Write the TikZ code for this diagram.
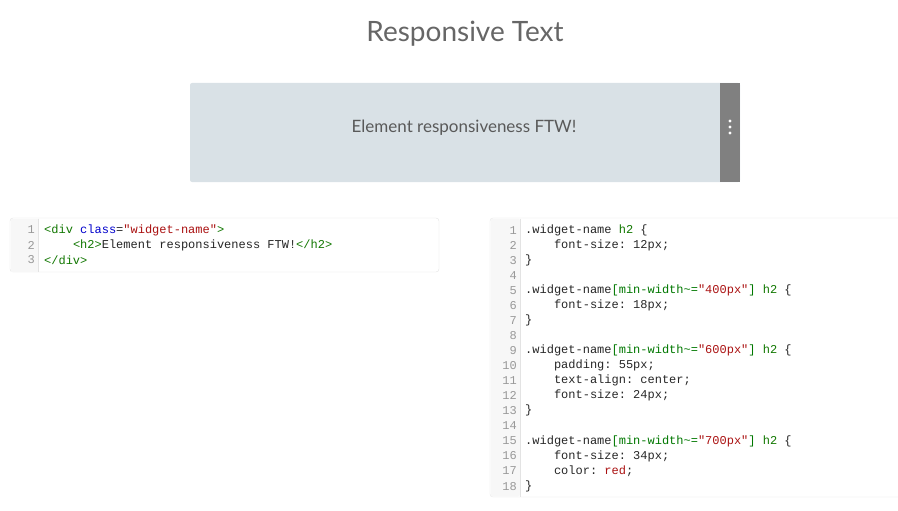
\documentclass[tikz,border=0pt]{standalone}
\usepackage{fontspec}
\setmainfont{Lato}
\setmonofont{Liberation Mono}
\definecolor{boxfill}{HTML}{D9E1E6}
\definecolor{handle}{HTML}{808080}
\definecolor{gut}{HTML}{F7F7F7}
\definecolor{bord}{HTML}{E3E3E3}
\definecolor{num}{HTML}{999999}
\definecolor{tag}{HTML}{117700}
\definecolor{att}{HTML}{0000CC}
\definecolor{str}{HTML}{AA1111}
\definecolor{brk}{HTML}{007700}
\newcommand{\T}[1]{\textcolor{tag}{#1}}
\newcommand{\A}[1]{\textcolor{att}{#1}}
\newcommand{\St}[1]{\textcolor{str}{#1}}
\newcommand{\B}[1]{\textcolor{brk}{#1}}
\newcommand{\Kw}[1]{\textcolor{str}{#1}}
\begin{document}
\begin{tikzpicture}[x=1pt,y=-1pt,
  code/.style={anchor=west,inner sep=0pt,font=\fontsize{12}{12}\ttfamily,text=black!85},
  lnum/.style={anchor=east,inner sep=0pt,font=\fontsize{12}{12}\ttfamily,text=num},
  cbox/.style={draw=bord,rounded corners=3pt,fill=white}]
\useasboundingbox (0,0) rectangle (898,511);
\node (title) at (465,34) {\fontsize{28}{28}\selectfont\color{black!60}Responsive Text};
% widget
\fill[boxfill,rounded corners=2pt] (190,83) rectangle (740,182);
\fill[handle] (720,83) rectangle (740,182);
\foreach \yy in {121,127,133} \fill[white] (730,\yy) circle (1.6);
\node (wtext) at (464,128) {\fontsize{17}{17}\selectfont\color{black!65}Element responsiveness FTW!};
% left code
\draw[cbox] (10,218) rectangle (439,272);
\fill[gut] (10.5,218.5) rectangle (38,271.5);
\draw[bord] (38,218.5) -- (38,271.5);
\foreach \i in {1,2,3} \node[lnum] at (35,215+15*\i) {\i};
\node[code] (l1) at (44,230) {\T{<div} \A{class}=\St{"widget-name"}\T{>}};
\node[code] (l2) at (44,245) {\phantom{xxxx}\T{<h2>}Element responsiveness FTW!\T{</h2>}};
\node[code] (l3) at (44,260) {\T{</div>}};
% right code
\draw[bord,rounded corners=3pt] (898,218) -- (490,218) -- (490,497) -- (898,497);
\fill[gut,rounded corners=2pt] (490.5,218.5) rectangle (520,496.5);
\draw[bord] (520,218.5) -- (520,496.5);
\foreach \i in {1,...,18} \node[lnum] at (517,215+15.06*\i) {\i};
\def\ry#1{215+15.06*#1}
\node[code] at (525,{\ry{1}}) {.widget-name \T{h2} \{};
\node[code] at (525,{\ry{2}}) {\phantom{xxxx}font-size: 12px;};
\node[code] at (525,{\ry{3}}) {\}};
\node[code] at (525,{\ry{5}}) {.widget-name\B{[min-width\textasciitilde=}\St{"400px"}\B{]} \T{h2} \{};
\node[code] at (525,{\ry{6}}) {\phantom{xxxx}font-size: 18px;};
\node[code] at (525,{\ry{7}}) {\}};
\node[code] at (525,{\ry{9}}) {.widget-name\B{[min-width\textasciitilde=}\St{"600px"}\B{]} \T{h2} \{};
\node[code] at (525,{\ry{10}}) {\phantom{xxxx}padding: 55px;};
\node[code] at (525,{\ry{11}}) {\phantom{xxxx}text-align: center;};
\node[code] at (525,{\ry{12}}) {\phantom{xxxx}font-size: 24px;};
\node[code] at (525,{\ry{13}}) {\}};
\node[code] at (525,{\ry{15}}) {.widget-name\B{[min-width\textasciitilde=}\St{"700px"}\B{]} \T{h2} \{};
\node[code] at (525,{\ry{16}}) {\phantom{xxxx}font-size: 34px;};
\node[code] at (525,{\ry{17}}) {\phantom{xxxx}color: \Kw{red};};
\node[code] at (525,{\ry{18}}) {\}};
\end{tikzpicture}
\end{document}
